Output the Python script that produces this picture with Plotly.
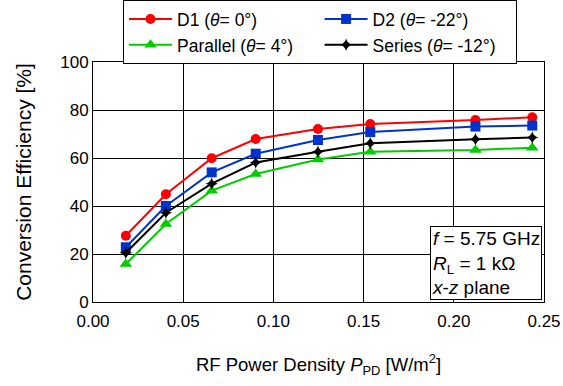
import plotly.graph_objects as go

x_vals = [0.0182, 0.0404, 0.0658, 0.0902, 0.1247, 0.1537, 0.212, 0.2435]
d1 = [27.6, 44.9, 59.9, 67.9, 72.1, 74.2, 75.8, 77.0]
d2 = [22.8, 40.0, 54.0, 61.8, 67.5, 70.8, 73.1, 73.5]
parallel = [15.8, 32.5, 46.4, 53.3, 59.4, 62.6, 63.3, 64.3]
series = [20.5, 37.2, 49.3, 58.1, 62.6, 66.1, 67.8, 68.5]

names = ["D1 (<i>θ</i>= 0°)", "D2 (<i>θ</i>= -22°)", "Parallel (<i>θ</i>= 4°)",
         "Series (<i>θ</i>= -12°)\u00a0\u00a0\u00a0"]
colors = ["#ff0000", "#0033cc", "#00cc00", "#000000"]
symbols = ["circle", "square", "triangle-up", "star-diamond"]
sizes = [10, 10, 11, 9]
data = [d1, d2, parallel, series]

FONT = "Liberation Sans, Arial, sans-serif"

fig = go.Figure()
for nm, y, c, s, sz in zip(names, data, colors, symbols, sizes):
    fig.add_trace(go.Scatter(
        x=x_vals, y=y, mode="lines+markers", name=nm,
        line=dict(color=c, width=2),
        marker=dict(symbol=s, size=sz, color=c, line=dict(width=0)),
    ))

fig.update_layout(
    width=563, height=386,
    margin=dict(l=93, r=19, t=62, b=84, autoexpand=False),
    paper_bgcolor="white", plot_bgcolor="white",
    font=dict(family=FONT, size=17, color="black"),
    showlegend=True,
    legend=dict(
        orientation="h", x=0.0665, xanchor="left", y=1.258, yanchor="top",
        xref="paper", yref="paper",
        bordercolor="black", borderwidth=1, bgcolor="white",
        font=dict(size=17.5), tracegroupgap=0, itemwidth=43,
    ),
    xaxis=dict(
        range=[0, 0.25], dtick=0.05, tickformat=".2f",
        showgrid=True, gridcolor="black", gridwidth=1,
        showline=True, linecolor="black", linewidth=1, mirror=True,
        ticks="", zeroline=False, ticklabelstandoff=4,
        title=dict(text="RF Power Density <i>P</i><sub>PD</sub> [W/m<sup>2</sup>]",
                   standoff=27, font=dict(size=18.5)),
    ),
    yaxis=dict(
        range=[0, 100], dtick=20,
        showgrid=True, gridcolor="black", gridwidth=1,
        showline=True, linecolor="black", linewidth=1, mirror=True,
        ticks="", zeroline=False,
        title=dict(text="Conversion Efficiency [%]", standoff=22, font=dict(size=21)),
    ),
)

fig.add_annotation(
    x=0.995, y=0.01, xref="paper", yref="paper", xanchor="right", yanchor="bottom",
    text="<i>f</i> = 5.75 GHz<br><i>R</i><sub>L</sub> = 1 kΩ<br><i>x</i>-<i>z</i> plane",
    showarrow=False, align="left", bgcolor="white",
    bordercolor="black", borderwidth=1, borderpad=1,
    font=dict(size=19),
)

fig.write_html("out.html")
